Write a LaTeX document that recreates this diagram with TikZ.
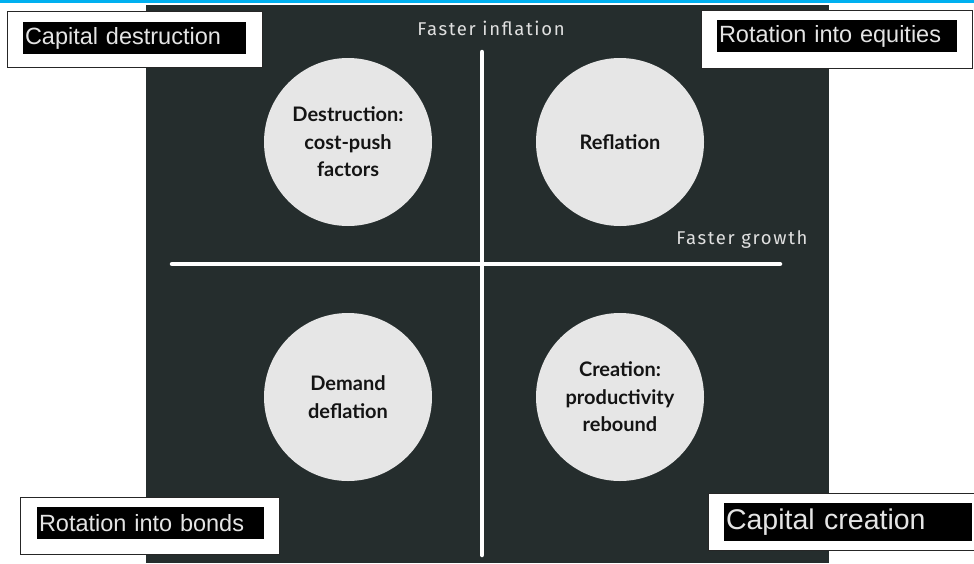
\documentclass[tikz,border=0pt]{standalone}
\usepackage{fontspec}
\setmainfont{Lato}
\newfontfamily\boxfont{Liberation Sans}
\newfontfamily\axisfont[LetterSpace=9]{Fira Sans}
\definecolor{bgdark}{HTML}{252D2D}
\definecolor{circfill}{HTML}{E6E6E6}
\definecolor{topline}{HTML}{00B0F0}
\definecolor{boxtext}{HTML}{E4E4E4}
\begin{document}
\begin{tikzpicture}[x=1pt,y=-1pt,
  outerbox/.style={draw=black!85, line width=0.8pt, fill=white, rectangle, inner sep=0pt},
  innerbox/.style={fill=black, text=boxtext, inner sep=0pt, anchor=center, font=\boxfont\fontsize{23.5}{26}\selectfont},
  quad/.style={circle, fill=circfill, minimum size=168pt, inner sep=0pt, align=center, font=\bfseries\fontsize{20}{27.5}\selectfont, text=black!92},
  axis/.style={draw=white, line width=4.5pt, line cap=round},
  axislabel/.style={text=white!88!black, font=\axisfont\fontsize{18.5}{22}\selectfont, inner sep=0pt}
]
\useasboundingbox (0,0) rectangle (974,563);
\fill[white] (0,0) rectangle (974,563);
\fill[bgdark] (146,5) rectangle (829,563);
\draw[topline, line width=2.5pt] (0,1.5) -- (974,1.5);

% axes
\coordinate (vtop) at (482,52);
\coordinate (vbot) at (482,555);
\coordinate (hl) at (172,264);
\coordinate (hr) at (780,264);
\draw[axis] (vtop) -- (vbot);
\draw[axis] (hl) -- (hr);
\node[axislabel] (infl) at (491,28) {Faster inflation};
\node[axislabel] (grow) at (742,240) {Faster growth};

% circles
\node[quad] (dest) at (348,142) {Destruction:\\cost-push\\factors};
\node[quad] (refl) at (620,142) {Reflation};
\node[quad] (defl) at (348,397) {Demand\\deflation};
\node[quad] (crea) at (620,397) {Creation:\\productivity\\rebound};

% corner boxes
\node[outerbox, minimum width=255pt, minimum height=56pt] (b1) at (134.5,39) {};
\node[innerbox, minimum width=223pt, minimum height=32pt, text width=219pt] (t1) at (134.5,38) {Capital destruction};

\node[outerbox, minimum width=271pt, minimum height=58pt] (b2) at (836.5,39) {};
\node[innerbox, minimum width=240pt, minimum height=32pt, text width=236pt] (t2) at (837,36) {Rotation into equities};

\node[outerbox, minimum width=259pt, minimum height=57pt] (b3) at (149.5,525.5) {};
\node[innerbox, minimum width=227pt, minimum height=32pt, text width=223pt] (t3) at (150.5,523) {Rotation into bonds};

\node[outerbox, minimum width=266pt, minimum height=57pt] (b4) at (841.5,521.5) {};
\node[innerbox, minimum width=248pt, minimum height=38pt, text width=244pt, font=\boxfont\fontsize{28.5}{32}\selectfont] (t4) at (848,522) {Capital creation};
\end{tikzpicture}
\end{document}
